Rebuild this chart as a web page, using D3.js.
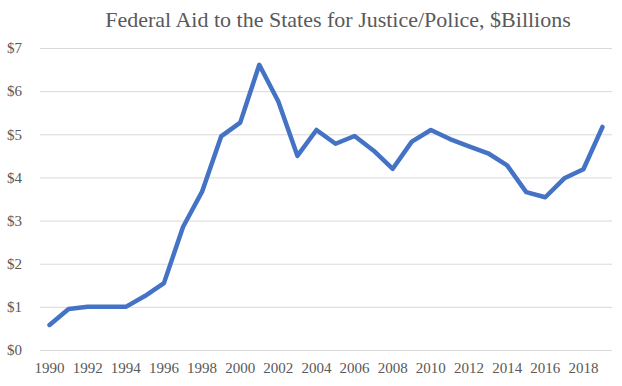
<!DOCTYPE html>
<html>
    <head>
        <title>Federal Aid to the States for Justice/Police</title>
        <script src="https://d3js.org/d3.v7.min.js"></script>
        <style>
            body { margin: 0; background: #fff; }
            .line { fill: none; stroke: #4472c4; stroke-width: 4.5px; stroke-linejoin: round; stroke-linecap: round; }
        </style>
    </head>
    <body>
        <div id="chart"></div>
        <script>
            const years = d3.range(1990, 2020);
            const aid = [0.58, 0.95, 1.0, 1.0, 1.0, 1.25, 1.55, 2.85, 3.67, 4.95, 5.27, 6.61, 5.76, 4.5, 5.1,
                4.78, 4.96, 4.62, 4.2, 4.83, 5.1, 4.89, 4.72, 4.56, 4.28, 3.66, 3.54, 3.98, 4.19, 5.17];
            const yTicks = [0, 1, 2, 3, 4, 5, 6, 7];
            const xTickYears = years.filter((d) => d % 2 === 0);

            const serif = "'Liberation Serif', 'Times New Roman', serif";
            const svgWidth = 622, svgHeight = 386;
            const margin = { top: 48, right: 10, bottom: 36, left: 40 };
            const width = svgWidth - margin.left - margin.right;
            const height = svgHeight - margin.top - margin.bottom;

            const svg = d3.select('#chart').append('svg')
                .attr('width', svgWidth)
                .attr('height', svgHeight);

            svg.append('text')
                .attr('x', 338)
                .attr('y', 27)
                .attr('text-anchor', 'middle')
                .attr('font-family', serif)
                .attr('font-size', 22)
                .attr('fill', '#595959')
                .text('Federal Aid to the States for Justice/Police, $Billions');

            const g = svg.append('g').attr('transform', `translate(${margin.left},${margin.top})`);

            const x = d3.scaleBand().domain(years).range([0, width]);
            const y = d3.scaleLinear().domain([0, 7]).range([height, 0]);

            // gridlines + y labels
            g.append('g')
                .attr('font-family', serif)
                .attr('font-size', 15)
                .call(d3.axisLeft(y).tickValues(yTicks).tickSize(-width).tickFormat((d) => '$' + d))
                .attr('font-family', serif)
                .attr('font-size', 15)
                .call((a) => a.select('.domain').remove())
                .call((a) => a.selectAll('line').attr('stroke', '#d9d9d9'))
                .call((a) => a.selectAll('text').attr('x', -18).attr('fill', '#595959'));

            // x labels
            g.append('g')
                .attr('transform', `translate(0,${height})`)
                .call(d3.axisBottom(x).tickValues(xTickYears).tickSize(0).tickPadding(12))
                .attr('font-family', serif)
                .attr('font-size', 15)
                .call((a) => a.select('.domain').remove())
                .call((a) => a.selectAll('text').attr('fill', '#595959'));

            const line = d3.line()
                .x((d, i) => x(years[i]) + x.bandwidth() / 2)
                .y((d) => y(d));

            g.append('path').datum(aid).attr('class', 'line').attr('d', line);
        </script>
    </body>
</html>
